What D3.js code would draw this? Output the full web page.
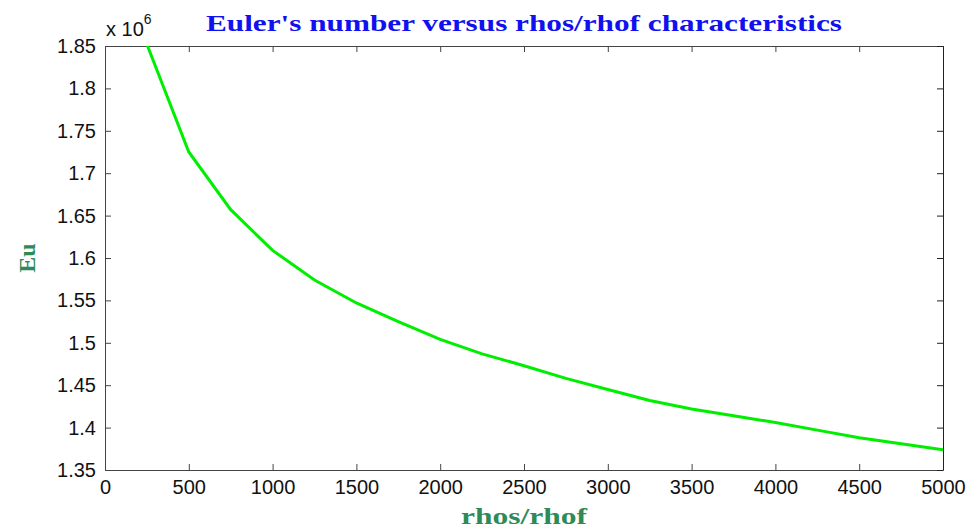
<!DOCTYPE html>
<html>
<head>
<meta charset="utf-8">
<script src="https://cdn.jsdelivr.net/npm/d3@7"></script>
<style>
  body { margin: 0; background: #fff; }
  .tick text { font-family: "Liberation Sans", Arial, sans-serif; font-size: 20px; fill: #111; }
</style>
</head>
<body>
<script>
// rhos/rhof værdier og Euler-tal (rå værdier, aksen i enheder af 10^6)
const rhoRatio = [250, 500, 750, 1000, 1250, 1500, 1750, 2000, 2250, 2500, 2750, 3000, 3250, 3500, 3750, 4000, 4250, 4500, 4750, 5000];
const euler = [1.852e6, 1.725e6, 1.657e6, 1.609e6, 1.574e6, 1.547e6, 1.525e6, 1.504e6, 1.487e6, 1.473e6, 1.458e6, 1.445e6, 1.432e6, 1.422e6, 1.414e6, 1.406e6, 1.397e6, 1.388e6, 1.381e6, 1.374e6];
const xTicks = [0, 500, 1000, 1500, 2000, 2500, 3000, 3500, 4000, 4500, 5000];
const yTicks = [1.35e6, 1.4e6, 1.45e6, 1.5e6, 1.55e6, 1.6e6, 1.65e6, 1.7e6, 1.75e6, 1.8e6, 1.85e6];

const width = 971, height = 529;
const margin = { left: 105, right: 28, top: 46, bottom: 59 };
const innerW = width - margin.left - margin.right;
const innerH = height - margin.top - margin.bottom;

const svg = d3.select("body").append("svg").attr("width", width).attr("height", height);

const x = d3.scaleLinear().domain([0, 5000]).range([margin.left, margin.left + innerW]);
const y = d3.scaleLinear().domain([1.35e6, 1.85e6]).range([margin.top + innerH, margin.top]);

svg.append("defs").append("clipPath").attr("id", "plotklip")
  .append("rect").attr("x", margin.left).attr("y", margin.top).attr("width", innerW).attr("height", innerH);

// akser med ticks indad (MATLAB-stil)
const fmtY = d => d3.format("")(+(d / 1e6).toFixed(2));
svg.append("g").attr("transform", `translate(0,${margin.top + innerH})`)
  .call(d3.axisBottom(x).tickValues(xTicks).tickSizeInner(-6).tickSizeOuter(0).tickPadding(10).tickFormat(d3.format("d")))
  .call(g => g.selectAll("line, path").attr("stroke", "#444"));
svg.append("g").attr("transform", `translate(${margin.left},0)`)
  .call(d3.axisLeft(y).tickValues(yTicks).tickSizeInner(-6).tickSizeOuter(0).tickPadding(9).tickFormat(fmtY))
  .call(g => g.selectAll("line, path").attr("stroke", "#444"));
svg.append("g").attr("transform", `translate(0,${margin.top})`)
  .call(d3.axisTop(x).tickValues(xTicks).tickSizeInner(-6).tickSizeOuter(0).tickFormat(""))
  .call(g => g.selectAll("line, path").attr("stroke", "#444"));
svg.append("g").attr("transform", `translate(${margin.left + innerW},0)`)
  .call(d3.axisRight(y).tickValues(yTicks).tickSizeInner(-6).tickSizeOuter(0).tickFormat(""))
  .call(g => g.selectAll("line, path").attr("stroke", "#222"));

// kurven
const linje = d3.line().x((d, i) => x(rhoRatio[i])).y(d => y(d));
svg.append("path")
  .datum(euler)
  .attr("clip-path", "url(#plotklip)")
  .attr("fill", "none")
  .attr("stroke", "#00ee00")
  .attr("stroke-width", 3)
  .attr("d", linje);

// eksponent-etiket
const eks = svg.append("text").attr("x", margin.left + 1).attr("y", 36)
  .style("font-family", "Liberation Sans, Arial, sans-serif").style("font-size", "20px").attr("fill", "#111");
eks.append("tspan").text("x 10");
eks.append("tspan").attr("dy", -12).style("font-size", "14px").text("6");

// titel og aksetitler
svg.append("text").attr("x", margin.left + innerW / 2).attr("y", 31)
  .attr("text-anchor", "middle")
  .style("font-family", "Liberation Serif, Times New Roman, serif").style("font-size", "24px").style("font-weight", "bold")
  .attr("fill", "#1010f0").attr("textLength", 636).attr("lengthAdjust", "spacingAndGlyphs")
  .text("Euler's number versus rhos/rhof characteristics");

svg.append("text").attr("x", margin.left + innerW / 2).attr("y", 524)
  .attr("text-anchor", "middle")
  .style("font-family", "Liberation Serif, Times New Roman, serif").style("font-size", "24px").style("font-weight", "bold")
  .attr("fill", "#2e8b57").attr("textLength", 126).attr("lengthAdjust", "spacingAndGlyphs")
  .text("rhos/rhof");

svg.append("text").attr("transform", `translate(35,${margin.top + innerH / 2}) rotate(-90)`)
  .attr("text-anchor", "middle")
  .style("font-family", "Liberation Serif, Times New Roman, serif").style("font-size", "24px").style("font-weight", "bold")
  .attr("fill", "#2e8b57")
  .text("Eu");
</script>
</body>
</html>
